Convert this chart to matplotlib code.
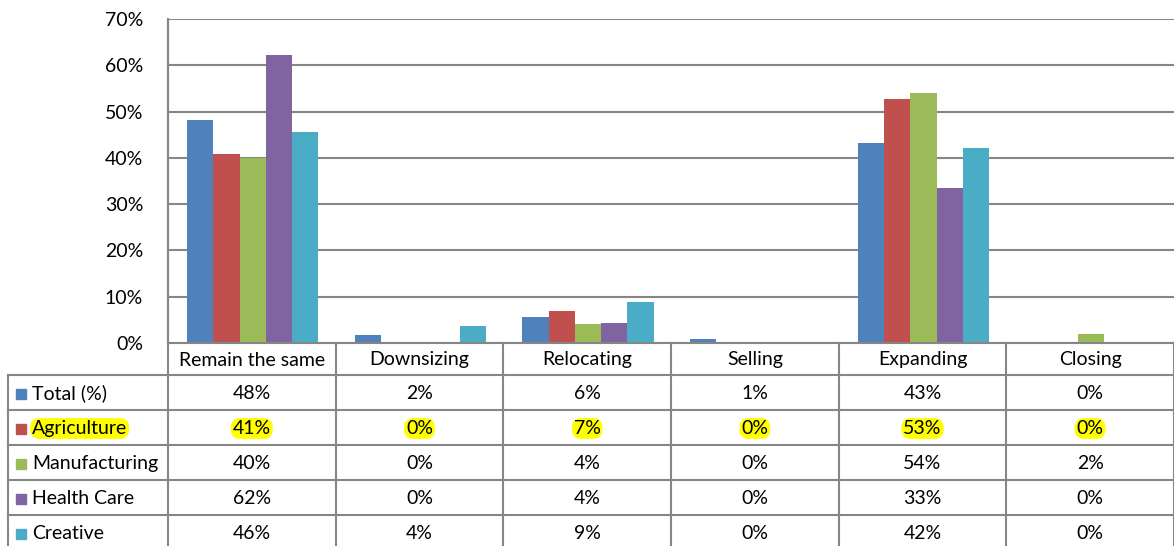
import matplotlib.pyplot as plt
from matplotlib.patches import Rectangle

categories = ["Remain the same", "Downsizing", "Relocating", "Selling", "Expanding", "Closing"]
series = ["Total (%)", "Agriculture", "Manufacturing", "Health Care", "Creative"]
total = [48.2, 1.7, 5.7, 0.8, 43.2, 0.3]
agriculture = [40.8, 0.0, 7.0, 0.0, 52.7, 0.0]
manufacturing = [40.0, 0.0, 4.2, 0.0, 54.0, 1.9]
health_care = [62.2, 0.0, 4.3, 0.0, 33.4, 0.0]
creative = [45.6, 3.6, 8.9, 0.0, 42.1, 0.0]
values = [total, agriculture, manufacturing, health_care, creative]
colors = ["#4F81BD", "#C0504D", "#9BBB59", "#8064A2", "#4BACC6"]
highlight = ["Agriculture"]

W, H = 1174, 546
FS = 14
GRID = "#868686"
plt.rcParams["font.family"] = ["Lato", "DejaVu Sans"]

fig = plt.figure(figsize=(W / 100, H / 100), dpi=100)

# plot area in pixels
left, right, top, base = 168, 1174, 19, 343
ax = fig.add_axes([left / W, 1 - base / H, (right - left) / W, (base - top) / H])
n = len(categories)
bw = 0.157
for k, (vals, c) in enumerate(zip(values, colors)):
    xs = [i + 0.5 + (k - 2) * bw + 0.005 for i in range(n)]
    ax.bar(xs, [v / 100 for v in vals], width=bw, color=c, zorder=3)
ax.set_xlim(0, n)
ax.set_ylim(0, 0.7)
ax.set_yticks([i / 10 for i in range(8)])
ax.set_yticklabels([f"{i * 10}%" for i in range(8)], fontsize=FS)
ax.tick_params(axis="y", length=0, pad=18)
ax.set_xticks([])
ax.yaxis.grid(True, color=GRID, linewidth=1.5, zorder=0)
for s in ["top", "right"]:
    ax.spines[s].set_visible(False)
ax.spines["left"].set_color(GRID)
ax.spines["left"].set_linewidth(1.5)
ax.spines["bottom"].set_visible(False)

# data table overlay in pixel coordinates
tx = fig.add_axes([0, 0, 1, 1], zorder=5)
tx.set_xlim(0, W)
tx.set_ylim(H, 0)
tx.axis("off")
tx.patch.set_alpha(0)
cw = (right - left) / n
rh = 35
hdr_bottom = 375
lw = 1.5
# horizontal lines
tx.plot([left, W], [base, base], color=GRID, lw=lw)
for r in range(len(series)):
    y = hdr_bottom + r * rh
    tx.plot([8, W], [y, y], color=GRID, lw=lw)
# vertical lines
tx.plot([8, 8], [hdr_bottom, H], color=GRID, lw=lw)
tx.plot([left, left], [top, H], color=GRID, lw=lw)
for i in range(1, n + 1):
    x = left + i * cw
    tx.plot([x, x], [base, H], color=GRID, lw=lw)

for i, cat in enumerate(categories):
    tx.text(left + (i + 0.5) * cw, base + 17, cat, ha="center", va="center", fontsize=FS)

for r, (name, vals, c) in enumerate(zip(series, values, colors)):
    yc = hdr_bottom + r * rh + rh / 2 + 1
    tx.add_patch(Rectangle((16, yc - 5), 10, 10, color=c))
    hl = name in highlight
    box = dict(boxstyle="round,pad=0.1,rounding_size=0.5", fc="#FFFF00", ec="none") if hl else None
    tx.text(32, yc, name, ha="left", va="center", fontsize=FS, bbox=box)
    for i, v in enumerate(vals):
        tx.text(left + (i + 0.5) * cw, yc, f"{round(v):.0f}%", ha="center", va="center",
                fontsize=FS, bbox=box)

fig.savefig("out.png", dpi=100)
